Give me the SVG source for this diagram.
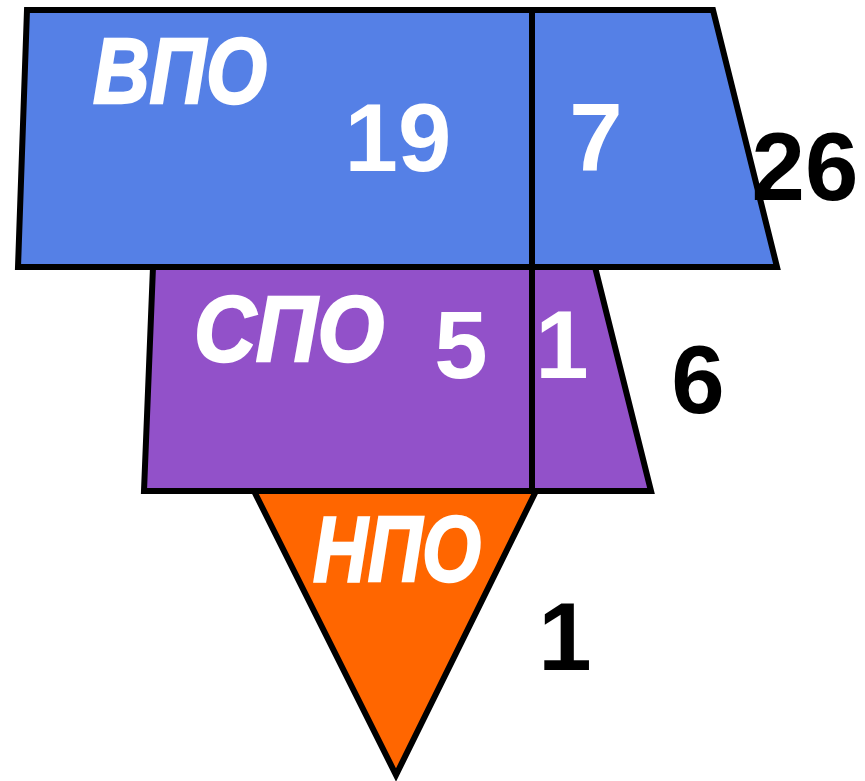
<svg xmlns="http://www.w3.org/2000/svg" width="865" height="781" viewBox="0 0 865 781">
<style>
.shape{stroke:#000;stroke-width:6;stroke-linejoin:miter}
.lbl{font-family:"Liberation Sans",Arial,sans-serif;font-weight:bold;font-style:italic;fill:#fff;stroke:#fff;stroke-width:2.5;font-size:93px}
.num{font-family:"Liberation Sans",Arial,sans-serif;font-weight:bold;font-size:96px;text-anchor:middle}
.w{fill:#fff}
.k{fill:#000}
</style>
<rect width="865" height="781" fill="#fff"/>
<g id="vpo">
<polygon class="shape" fill="#5580E6" points="27,10 713,10 777,267 18,267"/>
<line class="shape" x1="532" y1="10" x2="532" y2="267"/>
<text class="lbl" x="93" y="103" textLength="174" lengthAdjust="spacingAndGlyphs">ВПО</text>
<text class="num w" x="398" y="171">19</text>
<text class="num w" x="596" y="171">7</text>
</g>
<g id="spo">
<polygon class="shape" fill="#9251C9" points="153,267 595,267 651,491 144,491"/>
<line class="shape" x1="532" y1="267" x2="532" y2="491"/>
<text class="lbl" x="194" y="361" textLength="190" lengthAdjust="spacingAndGlyphs">СПО</text>
<text class="num w" x="461" y="378">5</text>
<text class="num w" x="562" y="378">1</text>
</g>
<g id="npo">
<polygon class="shape" fill="#FF6600" points="254,491 536,491 396,775"/>
<text class="lbl" x="313" y="581" textLength="168" lengthAdjust="spacingAndGlyphs">НПО</text>
</g>
<g id="totals">
<text class="num k" x="805" y="200">26</text>
<text class="num k" x="698" y="413">6</text>
<text class="num k" x="565" y="670">1</text>
</g>
<g id="connectors"/>
</svg>
